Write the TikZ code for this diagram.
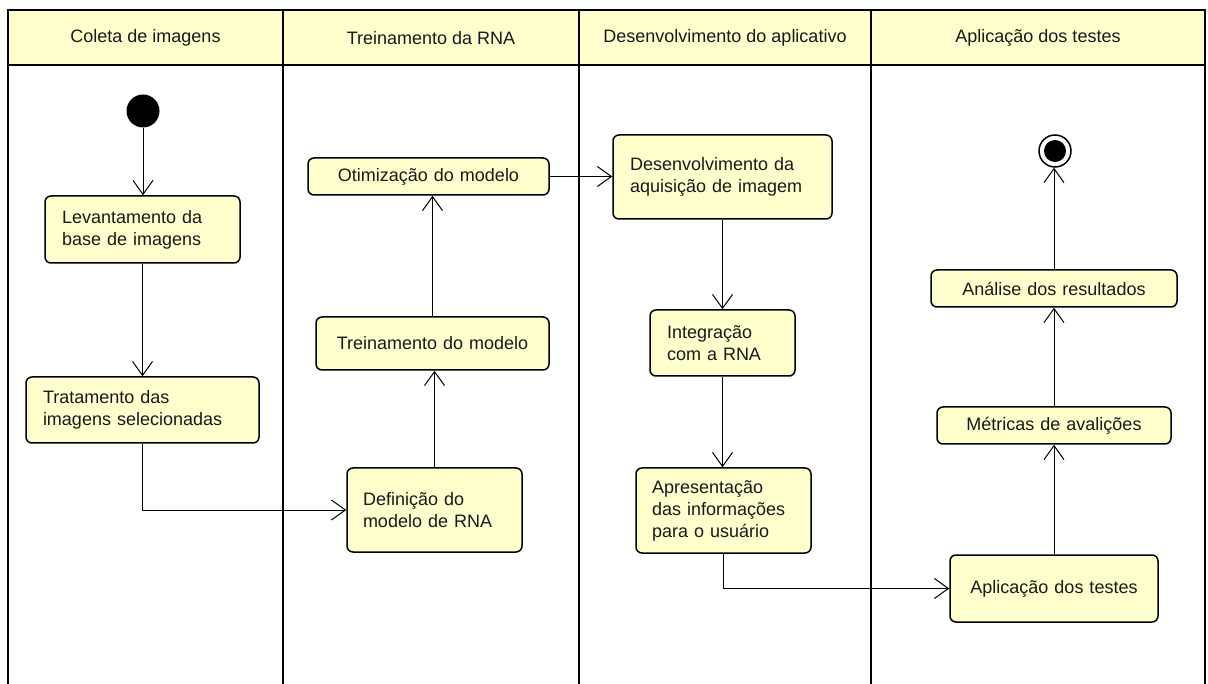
\documentclass[tikz,border=0pt]{standalone}
\usepackage{fontspec}
\setmainfont{Liberation Sans}
\usetikzlibrary{arrows.meta}
\definecolor{umlfill}{RGB}{255,255,206}
\definecolor{umltext}{RGB}{25,25,25}
\begin{document}
\begin{tikzpicture}[x=1pt,y=-1pt,
  font=\fontsize{18}{22}\selectfont,
  box/.style={draw, line width=1.5pt, fill=umlfill, rounded corners=6pt, inner ysep=0pt, text=umltext},
  lane/.style={line width=2pt},
  head/.style={text=umltext, inner sep=0pt},
  flow/.style={line width=1pt, -{Straight Barb[length=14pt,width=20pt,line width=1pt]}}
]
\useasboundingbox (0,0) rectangle (1208,684);
% swimlanes
\draw[lane, fill=umlfill] (8,10) rectangle (1205,65);
\draw[lane] (8,10) -- (8,684);
\draw[lane] (283,10) -- (283,684);
\draw[lane] (579,10) -- (579,684);
\draw[lane] (871,10) -- (871,684);
\draw[lane] (1205,10) -- (1205,684);
\node[head] (h1) at (145.5,38) {Coleta de imagens};
\node[head] (h2) at (431,38) {Treinamento da RNA};
\node[head] (h3) at (725,38) {Desenvolvimento do aplicativo};
\node[head] (h4) at (1038,38) {Aplicação dos testes};

% start / end
\node[circle, fill=black, minimum size=33pt, inner sep=0pt] (ini) at (143,111) {};
\node[circle, draw, line width=1.5pt, fill=white, minimum size=32pt, inner sep=0pt] (fim) at (1055,151) {};
\node[circle, fill=black, minimum size=22pt, inner sep=0pt] (fimin) at (fim) {};

% activities
\node[box, minimum height=67pt, text width=161pt, inner xsep=17pt, align=left] (lev) at (142.5,229.5) {Levantamento da\\base de imagens};
\node[box, minimum height=66pt, text width=199pt, inner xsep=17pt, align=left] (trat) at (142.5,410) {Tratamento das\\imagens selecionadas};
\node[box, minimum height=37pt, text width=231pt, inner xsep=5pt, align=center] (otim) at (428.5,176.5) {Otimização do modelo};
\node[box, minimum height=53pt, text width=223pt, inner xsep=5pt, align=center] (trein) at (432.5,343.5) {Treinamento do modelo};
\node[box, minimum height=84pt, text width=143pt, inner xsep=16pt, align=left] (def) at (434.5,510) {Definição do\\modelo de RNA};
\node[box, minimum height=84pt, text width=185pt, inner xsep=17pt, align=left] (desenv) at (722.5,177) {Desenvolvimento da\\aquisição de imagem};
\node[box, minimum height=66pt, text width=111pt, inner xsep=17pt, align=left] (integ) at (722.5,343) {Integração\\com a RNA};
\node[box, minimum height=85pt, text width=143pt, inner xsep=16pt, align=left] (apres) at (723.5,510.5) {Apresentação\\das informações\\para o usuário};
\node[box, minimum height=37pt, text width=236pt, inner xsep=5pt, align=center] (anal) at (1054,288.5) {Análise dos resultados};
\node[box, minimum height=37pt, text width=224pt, inner xsep=5pt, align=center] (metr) at (1054,425.5) {Métricas de avalições};
\node[box, minimum height=67pt, text width=198pt, inner xsep=5pt, align=center] (aplic) at (1054,588.5) {Aplicação dos testes};

% flows
\draw[flow] (ini.south) -- (ini.south |- lev.north);
\draw[flow] (lev) -- (trat);
\draw[flow] (trat.south) |- (def.west);
\draw[flow] (def.north) -- (def.north |- trein.south);
\draw[flow] (trein.north) -- (trein.north |- otim.south);
\draw[flow] (otim.east) -- (otim.east -| desenv.west);
\draw[flow] (desenv) -- (integ);
\draw[flow] (integ.south) -- (integ.south |- apres.north);
\draw[flow] (apres.south) |- (aplic.west);
\draw[flow] (aplic) -- (metr);
\draw[flow] (metr) -- (anal);
\draw[flow] (anal.north) -- (anal.north |- fim.south);
\end{tikzpicture}
\end{document}
